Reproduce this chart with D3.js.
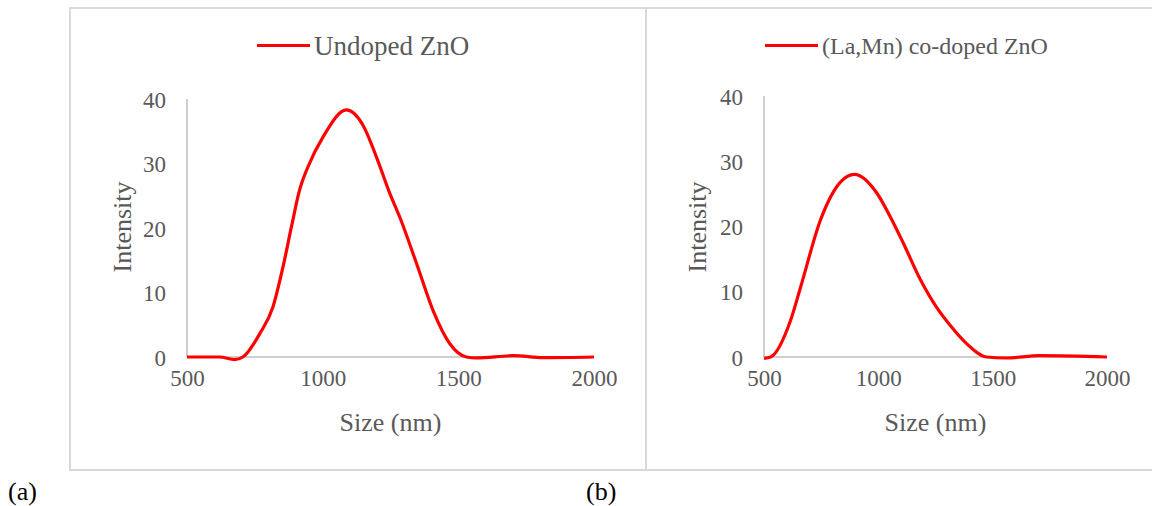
<!DOCTYPE html>
<html>
<head>
<meta charset="utf-8">
<title>DLS size distribution</title>
<style>
body { margin: 0; background: #fff; }
text { font-family: "Liberation Serif", "Times New Roman", serif; fill: #595959; }
.axis path, .axis line { stroke: #bfbfbf; stroke-width: 1.5px; }
.axis .tick line { display: none; }
.curve { fill: none; stroke: #ff0000; stroke-width: 3.2px; }
.frame { fill: none; stroke: #d9d9d9; stroke-width: 2px; }
</style>
</head>
<body>
<script src="https://cdn.jsdelivr.net/npm/d3@7"></script>
<script>
// values
var sizeTicks = [500, 1000, 1500, 2000];
var intensityTicks = [0, 10, 20, 30, 40];

var undopedSize = [500, 620, 676, 706, 768, 817, 854, 885, 915, 946, 1001, 1088, 1149, 1200, 1247, 1284, 1346, 1407, 1468, 1530, 1567, 1702, 1813, 2000];
var undopedIntensity = [0, 0, -0.4, 0, 3.6, 7.8, 14.0, 20.2, 25.9, 29.5, 34.1, 38.3, 35.9, 30.8, 25.4, 21.7, 14.5, 7.2, 2.1, 0, -0.15, 0.2, -0.1, 0];

var codopedSize = [500, 529, 616, 660, 747, 834, 896, 994, 1052, 1110, 1182, 1255, 1313, 1386, 1473, 1560, 1705, 2000];
var codopedIntensity = [-0.2, 0, 5.6, 10.7, 21, 26.8, 28.0, 25.1, 21.5, 17.4, 12.0, 7.6, 4.9, 2.05, 0, -0.15, 0.2, 0];

var width = 1152, height = 506;

var svg = d3.select("body").append("svg")
  .attr("width", width)
  .attr("height", height);

// panel frames
svg.append("rect").attr("class", "frame")
  .attr("x", 70).attr("y", 8).attr("width", 576).attr("height", 462);
svg.append("rect").attr("class", "frame")
  .attr("x", 646).attr("y", 8).attr("width", 520).attr("height", 462);

function drawPanel(cfg) {
  var x = d3.scaleLinear().domain([500, 2000]).range([cfg.left, cfg.right]);
  var y = d3.scaleLinear().domain([0, 40]).range([357, cfg.top]);

  var g = svg.append("g");

  g.append("g")
    .attr("class", "axis")
    .attr("transform", "translate(" + cfg.left + ",0)")
    .call(d3.axisLeft(y).tickValues(intensityTicks).tickSize(0).tickPadding(21))
    .call(function(a) {
      a.select(".domain").attr("d", "M0," + y(40) + "V" + y(0));
      a.selectAll("text").style("font-size", "23px").attr("fill", "#595959").attr("dy", "0.35em")
        .style("font-family", "Liberation Serif");
    });

  g.append("g")
    .attr("class", "axis")
    .attr("transform", "translate(0," + y(0) + ")")
    .call(d3.axisBottom(x).tickValues(sizeTicks).tickFormat(d3.format("d")).tickSize(0).tickPadding(13))
    .call(function(a) {
      a.select(".domain").attr("d", "M" + cfg.left + ",0H" + cfg.right);
      a.selectAll("text").style("font-size", "23px").attr("fill", "#595959")
        .style("font-family", "Liberation Serif");
    });

  var line = d3.line()
    .x(function(d) { return x(d[0]); })
    .y(function(d) { return y(d[1]); })
    .curve(d3.curveMonotoneX);

  g.append("path")
    .attr("class", "curve")
    .attr("d", line(d3.zip(cfg.sizes, cfg.values)));

  // axis titles
  g.append("text")
    .attr("x", (cfg.left + cfg.right) / 2)
    .attr("y", 431)
    .attr("text-anchor", "middle")
    .style("font-size", "26px")
    .text("Size (nm)");

  g.append("text")
    .attr("transform", "translate(" + cfg.ylabelX + ",227) rotate(-90)")
    .attr("text-anchor", "middle")
    .attr("dy", "0.35em")
    .style("font-size", "26px")
    .text("Intensity");

  // legend
  g.append("line")
    .attr("x1", cfg.legendX).attr("x2", cfg.legendX + 53)
    .attr("y1", 45.5).attr("y2", 45.5)
    .attr("stroke", "#ff0000").attr("stroke-width", 3.2);
  g.append("text")
    .attr("x", cfg.legendX + 57)
    .attr("y", 45.5)
    .attr("dy", "0.35em")
    .style("font-size", cfg.legendSize)
    .text(cfg.name);
}

drawPanel({
  left: 187, right: 594, top: 99, ylabelX: 122,
  sizes: undopedSize, values: undopedIntensity,
  legendX: 257, legendSize: "27px", name: "Undoped ZnO"
});

drawPanel({
  left: 764, right: 1107, top: 96, ylabelX: 697,
  sizes: codopedSize, values: codopedIntensity,
  legendX: 765, legendSize: "24px", name: "(La,Mn) co-doped ZnO"
});

// panel letters
svg.append("text").attr("x", 8).attr("y", 500)
  .style("font-size", "26px").style("fill", "#000").text("(a)");
svg.append("text").attr("x", 586).attr("y", 500)
  .style("font-size", "26px").style("fill", "#000").text("(b)");
</script>
</body>
</html>
